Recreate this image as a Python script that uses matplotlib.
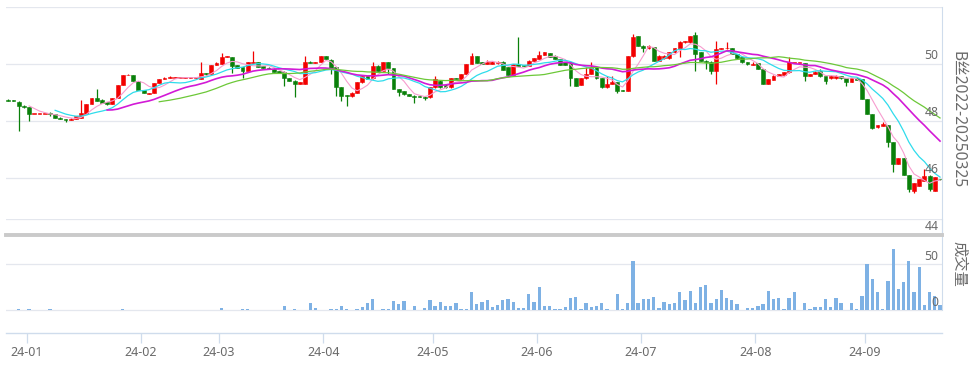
import matplotlib
matplotlib.use('Agg')
import matplotlib.pyplot as plt
import matplotlib.transforms as mtransforms
import numpy as np

plt.rcParams['font.family'] = ['Noto Sans', 'Noto Sans CJK SC', 'DejaVu Sans']

# ---------------- data ----------------
opens = [48.75, 48.71, 48.67, 48.53, 48.49, 48.25, 48.25, 48.25, 48.26, 48.25,
         48.12, 48.07, 48.04, 48.07, 48.10, 48.25, 48.60, 48.80, 48.74, 48.66,
         48.60, 48.81, 49.26, 49.61, 49.61, 49.40, 49.09, 48.96, 48.98, 49.33,
         49.47, 49.52, 49.52, 49.52, 49.52, 49.52, 49.52, 49.47, 49.68, 49.65,
         49.96, 50.00, 50.25, 50.25, 49.96, 49.89, 49.75, 50.05, 50.07, 49.92,
         49.87, 49.84, 49.75, 49.73, 49.50, 49.42, 49.30, 49.30, 50.07, 50.05,
         50.07, 50.28, 50.14, 49.88, 49.18, 48.90, 48.87, 49.00, 49.36, 49.57,
         49.50, 49.94, 49.77, 50.06, 49.85, 49.12, 49.05, 48.95, 48.86, 48.86,
         48.85, 48.83, 49.18, 49.42, 49.28, 49.18, 49.50, 49.47, 49.65, 50.00,
         50.27, 50.06, 50.00, 50.00, 50.02, 50.08, 49.88, 49.61, 50.00, 49.97,
         49.94, 50.12, 50.18, 50.32, 50.37, 50.29, 50.18, 50.06, 50.06, 49.50,
         49.26, 49.50, 49.65, 49.88, 49.50, 49.18, 49.30, 49.36, 49.09, 49.06,
         50.27, 50.97, 50.64, 50.55, 50.58, 50.12, 50.20, 50.20, 50.41, 50.53,
         50.76, 50.76, 51.02, 50.41, 50.12, 50.08, 49.77, 50.52, 50.55, 50.55,
         50.35, 50.23, 50.06, 49.98, 50.04, 49.82, 49.30, 49.45, 49.59, 49.63,
         49.71, 50.04, 50.04, 50.04, 49.59, 49.65, 49.76, 49.57, 49.50, 49.50,
         49.57, 49.50, 49.38, 49.50, 49.47, 48.77, 48.25, 47.78, 47.84, 47.86,
         47.25, 46.49, 46.69, 46.10, 45.56, 45.73, 45.90, 46.08, 45.56, 45.97]
highs = [48.77, 48.72, 48.69, 48.55, 48.50, 48.26, 48.26, 48.26, 48.32, 48.26,
         48.13, 48.08, 48.09, 48.18, 48.74, 48.61, 48.82, 49.12, 48.76, 48.67,
         48.82, 49.27, 49.62, 49.66, 49.62, 49.41, 49.10, 49.00, 49.34, 49.48,
         49.53, 49.57, 49.53, 49.53, 49.53, 49.53, 49.53, 50.07, 49.70, 49.97,
         50.06, 50.38, 50.27, 50.26, 49.97, 49.90, 50.08, 50.45, 50.08, 49.93,
         49.88, 49.85, 49.76, 49.74, 49.51, 49.43, 49.37, 50.28, 50.12, 50.06,
         50.29, 50.29, 50.16, 49.90, 49.20, 48.92, 49.01, 49.37, 49.58, 49.58,
         50.06, 49.95, 50.07, 50.07, 49.86, 49.13, 49.06, 48.96, 48.92, 48.87,
         48.86, 49.19, 49.57, 49.43, 49.30, 49.51, 49.52, 49.66, 50.01, 50.39,
         50.28, 50.07, 50.15, 50.10, 50.09, 50.09, 49.89, 50.01, 50.94, 49.98,
         50.13, 50.21, 50.47, 50.42, 50.38, 50.30, 50.19, 50.07, 50.07, 49.51,
         49.51, 49.88, 50.08, 49.89, 49.51, 49.59, 49.57, 49.37, 49.10, 50.28,
         51.06, 50.98, 50.65, 50.65, 50.59, 50.30, 50.30, 50.42, 50.56, 50.79,
         50.81, 51.00, 51.11, 50.42, 50.13, 50.09, 50.82, 50.56, 50.76, 50.56,
         50.36, 50.24, 50.07, 50.06, 50.05, 49.83, 49.48, 49.60, 49.66, 49.72,
         50.23, 50.05, 50.05, 50.05, 49.66, 49.74, 49.82, 49.58, 49.60, 49.60,
         49.58, 49.51, 49.51, 49.51, 49.48, 48.78, 48.26, 47.87, 47.98, 47.87,
         47.26, 46.70, 46.70, 46.11, 45.83, 45.97, 46.30, 46.09, 46.03, 45.98]
lows = [48.69, 48.69, 47.66, 48.46, 48.00, 48.24, 48.24, 48.24, 48.18, 48.09,
        48.06, 47.95, 48.02, 48.06, 48.09, 48.24, 48.59, 48.69, 48.62, 48.57,
        48.59, 48.80, 49.25, 49.60, 49.39, 49.08, 48.97, 48.95, 48.97, 49.32,
        49.46, 49.51, 49.51, 49.51, 49.51, 49.51, 49.51, 49.46, 49.63, 49.64,
        49.95, 49.99, 50.24, 49.68, 49.85, 49.50, 49.74, 50.04, 49.89, 49.85,
        49.81, 49.72, 49.67, 49.24, 49.41, 48.83, 49.29, 49.29, 50.02, 50.03,
        50.06, 50.17, 49.65, 48.89, 48.70, 48.54, 48.85, 48.99, 49.35, 49.46,
        49.49, 49.76, 49.76, 49.65, 49.11, 48.88, 48.92, 48.86, 48.63, 48.83,
        48.74, 48.82, 49.17, 49.17, 49.17, 49.17, 49.48, 49.46, 49.64, 49.99,
        50.02, 49.99, 49.99, 49.99, 50.01, 49.79, 49.60, 49.60, 49.93, 49.93,
        49.93, 50.11, 50.17, 50.31, 50.25, 50.17, 49.95, 49.95, 49.24, 49.22,
        49.25, 49.49, 49.64, 49.49, 49.17, 49.17, 49.29, 48.98, 49.04, 49.05,
        50.26, 50.63, 50.41, 50.54, 50.11, 50.11, 50.19, 50.19, 50.40, 50.23,
        50.75, 50.75, 49.77, 50.11, 49.82, 49.65, 49.30, 50.51, 50.54, 50.34,
        50.19, 50.05, 49.98, 49.97, 49.81, 49.29, 49.29, 49.44, 49.58, 49.62,
        49.70, 50.03, 50.03, 49.42, 49.58, 49.64, 49.56, 49.30, 49.49, 49.49,
        49.49, 49.22, 49.37, 49.43, 48.76, 48.24, 47.73, 47.77, 47.83, 47.08,
        46.20, 46.48, 46.09, 45.50, 45.48, 45.72, 45.89, 45.53, 45.55, 45.94]
closes = [48.71, 48.70, 48.51, 48.48, 48.25, 48.25, 48.25, 48.25, 48.25, 48.10,
          48.07, 48.03, 48.08, 48.17, 48.28, 48.60, 48.81, 48.70, 48.63, 48.58,
          48.81, 49.26, 49.61, 49.63, 49.40, 49.09, 48.98, 48.99, 49.33, 49.47,
          49.52, 49.53, 49.52, 49.52, 49.52, 49.52, 49.52, 49.68, 49.64, 49.96,
          50.05, 50.25, 50.26, 49.94, 49.86, 49.75, 50.07, 50.08, 49.90, 49.86,
          49.82, 49.73, 49.68, 49.50, 49.42, 49.30, 49.36, 50.07, 50.04, 50.05,
          50.28, 50.18, 49.86, 49.18, 48.89, 48.88, 49.00, 49.36, 49.57, 49.47,
          49.94, 49.77, 50.06, 49.85, 49.12, 49.02, 48.94, 48.87, 48.84, 48.84,
          48.80, 49.18, 49.47, 49.18, 49.18, 49.50, 49.49, 49.65, 50.00, 50.29,
          50.03, 50.00, 50.08, 50.08, 50.08, 49.80, 49.61, 50.00, 49.94, 49.94,
          50.12, 50.20, 50.32, 50.41, 50.26, 50.18, 49.96, 49.96, 49.50, 49.24,
          49.50, 49.65, 49.88, 49.50, 49.18, 49.30, 49.36, 49.06, 49.06, 50.27,
          50.94, 50.64, 50.55, 50.64, 50.12, 50.29, 50.29, 50.41, 50.55, 50.78,
          50.80, 50.99, 50.35, 50.12, 50.06, 49.77, 50.53, 50.55, 50.56, 50.35,
          50.20, 50.06, 49.99, 50.01, 49.82, 49.30, 49.47, 49.59, 49.65, 49.71,
          50.06, 50.04, 50.04, 49.59, 49.65, 49.73, 49.57, 49.42, 49.59, 49.59,
          49.50, 49.38, 49.50, 49.44, 48.77, 48.25, 47.74, 47.86, 47.90, 47.25,
          46.49, 46.69, 46.10, 45.61, 45.82, 45.96, 46.08, 45.60, 46.02, 45.95]
volumes = [0, 0, 1, 0, 1, 0, 0, 0, 1, 0,
           0, 0, 0, 0, 0, 0, 0, 0, 0, 0,
           0, 0, 1, 0, 0, 0, 0, 0, 0, 0,
           0, 0, 0, 0, 0, 0, 0, 0, 0, 0,
           0, 2.2, 0, 0, 0, 1, 1, 0, 0, 0,
           0, 0, 0, 4.8, 0, 1, 0, 0, 7.4, 2.2,
           0, 0, 1, 1, 4.4, 1.5, 0, 1, 3, 7.4,
           12.2, 0, 1, 1, 10, 6.7, 10, 0, 4.4, 0,
           2.2, 11, 4.4, 8.9, 4.8, 4.8, 7.4, 1, 1, 19.6,
           6.7, 8.9, 11, 3.7, 5.9, 11, 12.2, 8.9, 1.8, 1.8,
           17.4, 8.9, 25, 4.4, 4.4, 1.5, 1.5, 3, 13, 14,
           1.5, 7.4, 3.7, 4.4, 7.4, 1, 0, 17.4, 1, 7.4,
           53.7, 7.4, 12.2, 12.2, 14.8, 2.2, 8.5, 6.7, 7.4, 19.6,
           11, 20.7, 7.4, 25, 27.8, 7.4, 12.2, 21.8, 13.3, 11,
           6.3, 0, 2.2, 2.2, 4.4, 6.7, 20.7, 12.2, 13.3, 1.5,
           13.3, 19.6, 0, 7.4, 1, 3.3, 3.3, 12.2, 3.3, 13.3,
           7.4, 0, 7.4, 1.5, 15.5, 50, 34, 19.6, 1, 31.5,
           67.3, 23, 30.3, 53.7, 19.6, 47.4, 5.9, 19.6, 15.5, 5.9]
month_labels = ['24-01', '24-02', '24-03', '24-04', '24-05',
                '24-06', '24-07', '24-08', '24-09']
month_start = [4, 26, 41, 61, 82, 102, 122, 144, 165]
ma_periods = [5, 10, 20, 30]
price_ticks = [44, 46, 48, 50]
volume_ticks = [0, 50]
title_price = 'B丝2022-20250325'
title_volume = '成交量'

# ---------------- style ----------------
UP = '#f20000'
DOWN = '#0a800a'
MA_COLORS = ['#f79ccf', '#2fdcec', '#d21ad6', '#6cc838']
MA_WIDTHS = [0.8, 0.9, 1.2, 0.9]
GRID = '#e4e7ee'
AXIS = '#cfdcec'
TXT = '#6a6a6a'
VOL = '#7eb1e4'

W, H = 972, 365
fig = plt.figure(figsize=(W / 100, H / 100), dpi=100)
fig.patch.set_facecolor('white')

def fbox(x0, y0, x1, y1):
    return [x0 / W, 1 - y1 / H, (x1 - x0) / W, (y1 - y0) / H]

n = len(closes)
x = np.arange(n)
xlim = (-0.44, 179.38)

# volume panel (behind)
axv = fig.add_axes(fbox(6, 219, 942, 333))
axv.set_xlim(*xlim)
axv.set_ylim(-25.3, 100)
for v in [0, 50, 100]:
    axv.axhline(v, color=GRID, lw=0.9, zorder=0)
axv.bar(x, volumes, width=0.64, color=VOL, zorder=2)
for s in ['top', 'left']:
    axv.spines[s].set_visible(False)
axv.spines['right'].set_color(AXIS)
axv.spines['right'].set_bounds(0, 100)
axv.spines['bottom'].set_color(AXIS)
axv.spines['bottom'].set_linewidth(1.0)
axv.set_yticks([])
axv.set_xticks([m - 0.5 for m in month_start])
axv.set_xticklabels(month_labels, fontsize=9, color=TXT)
axv.tick_params(axis='x', length=7.5, width=0.9, color=AXIS, pad=2)
trv = mtransforms.blended_transform_factory(axv.transAxes, axv.transData)
for v in volume_ticks:
    axv.text(0.9962, v + 1.5, str(v), transform=trv, ha='right', va='bottom',
             fontsize=8.8, color=TXT, zorder=5)

# main price panel
ax = fig.add_axes(fbox(6, 7, 942, 235))
ax.patch.set_alpha(0)
ax.set_xlim(*xlim)
ax.set_ylim(44, 52)
for v in [46, 48, 50, 52]:
    ax.axhline(v, color=GRID, lw=0.9, zorder=0)

o = np.array(opens); c = np.array(closes)
hi = np.array(highs); lo = np.array(lows)
up = c >= o
colors = np.where(up, UP, DOWN)
ax.vlines(x, lo, hi, colors=colors, lw=0.9, zorder=2)
body_h = np.maximum(np.abs(c - o), 0.02)
ax.bar(x, body_h, bottom=np.minimum(o, c), width=0.74, color=colors,
       edgecolor=colors, linewidth=0.4, zorder=3)

cs = np.array(closes)
for p, col, lw in zip(ma_periods, MA_COLORS, MA_WIDTHS):
    ma = np.convolve(cs, np.ones(p) / p, mode='valid')
    ax.plot(x[p - 1:], ma, color=col, lw=lw, zorder=4)

for s in ['top', 'left']:
    ax.spines[s].set_visible(False)
ax.spines['right'].set_color(AXIS)
ax.spines['bottom'].set_color('#cacaca')
ax.spines['bottom'].set_linewidth(2.8)
ax.set_xticks([])
ax.set_yticks([])
tr = mtransforms.blended_transform_factory(ax.transAxes, ax.transData)
for v in price_ticks:
    ax.text(0.9962, v + 0.06, str(v), transform=tr, ha='right', va='bottom',
            fontsize=8.8, color=TXT, zorder=6)

fig.text(958 / W, 1 - 120 / H, title_price, rotation=-90, ha='center',
         va='center', fontsize=11.2, color=TXT)
fig.text(958 / W, 1 - 264 / H, title_volume, rotation=-90, ha='center',
         va='center', fontsize=11, color=TXT)

fig.savefig('out.png', dpi=100, facecolor='white')
